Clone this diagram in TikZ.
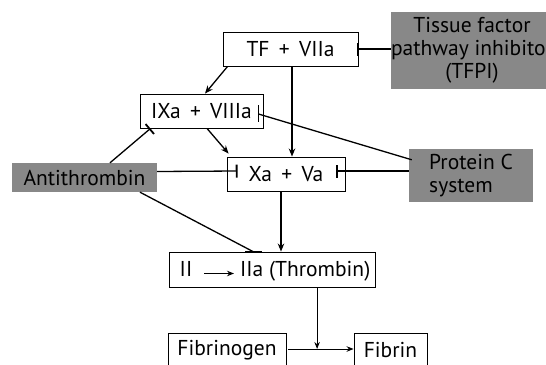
\documentclass[tikz,border=0pt]{standalone}
\usepackage{fontspec}
\setmainfont{PT Sans}
\usepackage{tikz}
\usetikzlibrary{arrows.meta}
\definecolor{inhgray}{RGB}{136,136,136}

\begin{document}
\begin{tikzpicture}[x=1pt,y=-1pt,
    font=\fontsize{21.5}{23}\selectfont,
    factor/.style={draw,line width=0.9pt,minimum height=34pt,inner sep=0pt},
    inhib/.style={fill=inhgray,inner sep=0pt},
    act/.style={line width=1.3pt,-{Stealth[length=8pt,width=6.5pt]}},
    conv/.style={line width=1pt,-{Stealth[length=7pt,width=5.5pt]}},
    blk/.style={line width=1.3pt,-{Bar[width=13pt,line width=1.8pt]}},
    bar/.style={line width=1.8pt}]
  \useasboundingbox (0,0) rectangle (546,364);
  \clip (0,0) rectangle (546,364);
  % factors
  \node[factor,minimum width=135pt] (tf) at (290.5,49) {TF \,+\, VIIa};
  \node[factor,minimum width=123pt] (ix) at (201.5,111) {IXa \,+\, VIIIa};
  \node[factor,minimum width=118pt] (xa) at (286,174) {Xa \,+\, Va};
  \node[factor,minimum width=206pt,minimum height=35pt] (thr) at (272,269.5) {};
  \node[anchor=base,inner sep=0pt] (ii) at (186,276) {II};
  \node[anchor=base west,inner sep=0pt] (iia) at (240,276) {IIa (Thrombin)};
  \node[factor,minimum width=118pt] (fg) at (227,350) {Fibrinogen};
  \node[factor,minimum width=73pt] (fb) at (390.5,350) {Fibrin};
  % inhibitors
  \node[inhib,minimum width=162pt,minimum height=77pt,align=center] (tfpi) at (472,50.5) {Tissue factor\\pathway inhibitor\\(TFPI)};
  \node[inhib,minimum width=145pt,minimum height=29pt] (at) at (84.5,177.5) {Antithrombin};
  \node[inhib,minimum width=124pt,minimum height=53pt,align=left] (pc) at (471,175.5) {Protein C\\system};
  % activation
  \draw[act] ([xshift=5pt]tf.south west) -- ([xshift=3.5pt]ix.north);
  \draw[act] ([xshift=1.5pt]tf.south) -- ([xshift=6pt]xa.north);
  \draw[act] ([xshift=5.5pt]ix.south) -- ([shift={(2pt,3pt)}]xa.north west);
  \draw[act] ([xshift=-5pt]xa.south) -- ([xshift=9pt]thr.north);
  \draw[conv,shorten <=12pt,shorten >=6pt] (ii.mid east) -- (iia.mid west);
  \draw[conv] ([xshift=2pt,yshift=1pt]fg.east) -- ([yshift=1pt]fb.west) coordinate[pos=0.44] (join);
  \draw[conv] (thr.south -| join) -- (join);
  % inhibition
  \draw[blk] (tf.east -| tfpi.west) -- ([xshift=-1pt]tf.east);
  \draw[blk] ([xshift=25.5pt]at.north) -- ([xshift=-51pt]ix.south);
  \draw[blk] ([yshift=6pt]at.east) -- ([shift={(11pt,3pt)}]xa.west);
  \draw[line width=1.3pt] ([xshift=55.5pt]at.south) -- ([xshift=-19pt]thr.north);
  \draw[bar] ([xshift=-27pt]thr.north) -- ([xshift=-10pt]thr.north);
  \draw[line width=1.3pt] ([shift={(3pt,-11pt)}]pc.north west) -- ([shift={(-5pt,-3pt)}]ix.east);
  \draw[bar] ([shift={(-5pt,6pt)}]ix.east) -- ([shift={(-5pt,-11pt)}]ix.east);
  \draw[blk] ([yshift=4.5pt]pc.west) -- ([shift={(-9pt,3pt)}]xa.east);
\end{tikzpicture}
\end{document}
